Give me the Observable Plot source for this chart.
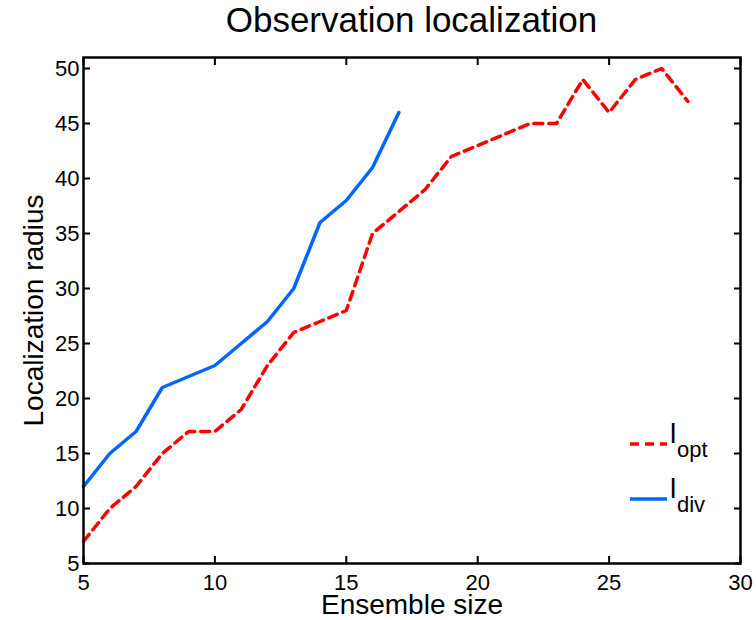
<!DOCTYPE html>
<html>
<head>
<meta charset="utf-8">
<script src="https://cdn.jsdelivr.net/npm/d3@7"></script>
<script src="https://cdn.jsdelivr.net/npm/@observablehq/plot@0.6"></script>
<style>
  html, body { margin: 0; padding: 0; background: #fff; }
  #wrap { position: relative; width: 756px; height: 620px; font-family: "Liberation Sans", Arial, Helvetica, sans-serif; }
  #title { position: absolute; left: 83px; top: 0; width: 657px; height: 40px; line-height: 40px; text-align: center; font-size: 35px; color: #000; }
  #chart { position: absolute; left: 0; top: 40px; }
  #legend { position: absolute; left: 0; top: 0; }
</style>
</head>
<body>
<div id="wrap">
  <div id="title">Observation localization</div>
  <div id="chart"></div>
  <svg id="legend" width="756" height="620"></svg>
</div>
<script>
// Ensemble sizes and the corresponding localization radii
const optSizes = [5, 6, 7, 8, 9, 10, 11, 12, 13, 14, 15, 16, 17, 18, 19, 20, 21, 22, 23, 24, 25, 26, 27, 28];
const optRadius = [7, 10, 12, 15, 17, 17, 19, 23, 26, 27, 28, 35, 37, 39, 42, 43, 44, 45, 45, 49, 46, 49, 50, 47];

const divSizes = [5, 6, 7, 8, 9, 10, 11, 12, 13, 14, 15, 16, 17];
const divRadius = [12, 15, 17, 21, 22, 23, 25, 27, 30, 36, 38, 41, 46];

const xTicks = [5, 10, 15, 20, 25, 30];
const yTicks = [5, 10, 15, 20, 25, 30, 35, 40, 45, 50];

const seriesNames = ["opt", "div"];
const seriesColors = ["#ff0000", "#0066ff"];

const optData = optSizes.map((x, i) => ({x, y: optRadius[i]}));
const divData = divSizes.map((x, i) => ({x, y: divRadius[i]}));

const font = "'Liberation Sans', Arial, Helvetica, sans-serif";

const chart = Plot.plot({
  width: 756,
  height: 580,
  marginTop: 17,
  marginBottom: 57,
  marginLeft: 83,
  marginRight: 16,
  style: {fontFamily: font, fontSize: "22px", color: "#000", background: "#fff"},
  x: {domain: [5, 30], ticks: xTicks},
  y: {domain: [5, 51], ticks: yTicks},
  marks: [
    Plot.line(optData, {x: "x", y: "y", stroke: seriesColors[0], strokeWidth: 3.5, strokeDasharray: "9,6"}),
    Plot.line(divData, {x: "x", y: "y", stroke: seriesColors[1], strokeWidth: 3.5}),
    // inward ticks on all four sides, labels only bottom and left
    Plot.axisX(xTicks, {anchor: "bottom", tickSize: -7, tickPadding: 17.4, strokeWidth: 2, fontSize: 22, label: null}),
    Plot.axisX(xTicks, {anchor: "top", tickSize: -7, strokeWidth: 2, tickFormat: () => "", label: null}),
    Plot.axisY(yTicks, {anchor: "left", tickSize: -7, tickPadding: 11, strokeWidth: 2, fontSize: 22, label: null}),
    Plot.axisY(yTicks, {anchor: "right", tickSize: -7, strokeWidth: 2, tickFormat: () => "", label: null}),
    Plot.frame({stroke: "#000", strokeWidth: 2.5}),
    Plot.text(["Ensemble size"], {text: d => d, frameAnchor: "bottom", dy: 50, lineAnchor: "bottom", textAnchor: "middle", fontSize: 28}),
    Plot.text(["Localization radius"], {text: d => d, frameAnchor: "left", dx: -41, rotate: -90, lineAnchor: "bottom", textAnchor: "middle", fontSize: 28})
  ]
});
document.getElementById("chart").appendChild(chart);

// Legend: line sample, "l" with subscript series name
const legend = d3.select("#legend");
const rows = [
  {name: seriesNames[0], color: seriesColors[0], dash: "9,6", y: 444},
  {name: seriesNames[1], color: seriesColors[1], dash: null, y: 499}
];
rows.forEach(r => {
  legend.append("line")
    .attr("x1", 630).attr("x2", 667).attr("y1", r.y).attr("y2", r.y)
    .attr("stroke", r.color).attr("stroke-width", 3.5)
    .attr("stroke-dasharray", r.dash);
  legend.append("text")
    .attr("x", 670).attr("y", r.y - 1)
    .attr("font-family", font).attr("font-size", 28)
    .text("l");
  legend.append("text")
    .attr("x", 677).attr("y", r.y + 13)
    .attr("font-family", font).attr("font-size", 22)
    .text(r.name);
});
</script>
</body>
</html>
